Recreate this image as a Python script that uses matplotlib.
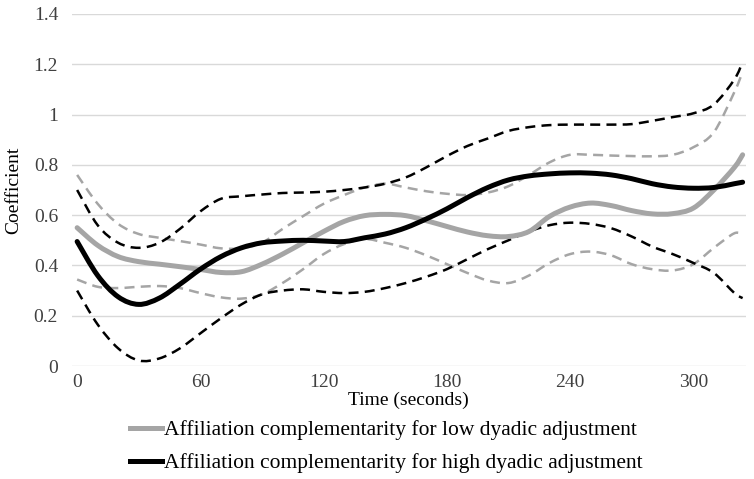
import matplotlib.pyplot as plt
from matplotlib.path import Path
from matplotlib.patches import PathPatch
from matplotlib.lines import Line2D
import numpy as np

# time in seconds
time = [0, 10, 20, 30, 40, 50, 60, 70, 80, 90, 100, 110, 120, 130, 140, 150, 160,
        170, 180, 190, 200, 210, 220, 230, 240, 250, 260, 270, 280, 290, 300, 310, 320, 324]

low_mean = [0.55, 0.48, 0.435, 0.415, 0.405, 0.395, 0.384, 0.372, 0.375, 0.405, 0.445, 0.49,
            0.535, 0.575, 0.598, 0.603, 0.598, 0.578, 0.555, 0.533, 0.518, 0.515, 0.535, 0.595,
            0.632, 0.648, 0.638, 0.618, 0.605, 0.606, 0.628, 0.70, 0.79, 0.84]
low_upper = [0.76, 0.645, 0.565, 0.525, 0.51, 0.497, 0.483, 0.468, 0.468, 0.49, 0.545, 0.596,
             0.645, 0.68, 0.71, 0.725, 0.71, 0.695, 0.685, 0.68, 0.69, 0.715, 0.76, 0.81,
             0.84, 0.84, 0.837, 0.835, 0.834, 0.84, 0.87, 0.93, 1.09, 1.17]
low_lower = [0.344, 0.315, 0.31, 0.315, 0.318, 0.31, 0.29, 0.273, 0.268, 0.285, 0.33, 0.385,
             0.445, 0.485, 0.505, 0.49, 0.47, 0.44, 0.405, 0.37, 0.34, 0.33, 0.36, 0.41,
             0.445, 0.455, 0.44, 0.405, 0.385, 0.38, 0.405, 0.47, 0.528, 0.52]

high_mean = [0.495, 0.36, 0.275, 0.245, 0.27, 0.325, 0.385, 0.435, 0.47, 0.49, 0.497, 0.5,
             0.497, 0.495, 0.51, 0.525, 0.55, 0.585, 0.625, 0.67, 0.71, 0.74, 0.756, 0.764,
             0.768, 0.767, 0.76, 0.745, 0.725, 0.712, 0.707, 0.71, 0.725, 0.731]
high_upper = [0.70, 0.56, 0.49, 0.47, 0.49, 0.545, 0.615, 0.665, 0.675, 0.682, 0.688, 0.69,
              0.693, 0.70, 0.71, 0.725, 0.75, 0.79, 0.835, 0.875, 0.905, 0.935, 0.95, 0.958,
              0.96, 0.96, 0.96, 0.962, 0.975, 0.99, 1.005, 1.04, 1.14, 1.21]
high_lower = [0.30, 0.165, 0.07, 0.022, 0.03, 0.07, 0.13, 0.19, 0.245, 0.285, 0.30, 0.305,
              0.295, 0.29, 0.295, 0.31, 0.33, 0.355, 0.385, 0.425, 0.465, 0.5, 0.535, 0.56,
              0.57, 0.565, 0.548, 0.515, 0.475, 0.445, 0.41, 0.37, 0.29, 0.27]

x_ticks = [0, 60, 120, 180, 240, 300]
y_ticks = [0, 0.2, 0.4, 0.6, 0.8, 1.0, 1.2, 1.4]
y_ticklabels = ["0", "0.2", "0.4", "0.6", "0.8", "1", "1.2", "1.4"]

low_label = "Affiliation complementarity for low dyadic adjustment"
high_label = "Affiliation complementarity for high dyadic adjustment"

GRAY = "#a5a5a5"
BLACK = "#000000"

plt.rcParams['font.family'] = ['Liberation Serif', 'DejaVu Serif']


def smooth_line(ax, xs, ys, **kw):
    """Excel-style smoothed line: Catmull-Rom segments drawn as Bezier curves."""
    pts = np.column_stack([xs, ys]).astype(float)
    n = len(pts)
    verts = [pts[0]]
    codes = [Path.MOVETO]
    for i in range(n - 1):
        p0 = pts[max(i - 1, 0)]
        p1 = pts[i]
        p2 = pts[i + 1]
        p3 = pts[min(i + 2, n - 1)]
        c1 = p1 + (p2 - p0) / 6.0
        c2 = p2 - (p3 - p1) / 6.0
        verts += [c1, c2, p2]
        codes += [Path.CURVE4] * 3
    patch = PathPatch(Path(verts, codes), fill=False, **kw)
    ax.add_patch(patch)
    return patch


fig = plt.figure(figsize=(7.54, 4.79), dpi=100)
ax = fig.add_axes([0.0955, 0.2359, 0.8935, 0.7349])

# confidence bands (dashed)
dash = (0, (4, 2.5))
smooth_line(ax, time, low_upper, edgecolor=GRAY, linewidth=1.8, linestyle=dash)
smooth_line(ax, time, low_lower, edgecolor=GRAY, linewidth=1.8, linestyle=dash)
smooth_line(ax, time, high_upper, edgecolor=BLACK, linewidth=1.8, linestyle=dash)
smooth_line(ax, time, high_lower, edgecolor=BLACK, linewidth=1.8, linestyle=dash)

# mean curves
smooth_line(ax, time, low_mean, edgecolor=GRAY, linewidth=3.6, capstyle='round')
smooth_line(ax, time, high_mean, edgecolor=BLACK, linewidth=3.6, capstyle='round')

ax.set_xlim(-2.5, 325.5)
ax.set_ylim(0, 1.4)
ax.set_xticks(x_ticks)
ax.set_yticks(y_ticks)
ax.set_yticklabels(y_ticklabels)
ax.tick_params(length=0, labelsize=14, colors='#404040')
ax.tick_params(axis='y', pad=10)
ax.tick_params(axis='x', pad=6)
ax.grid(True, axis='y', color='#d9d9d9', linewidth=1)
ax.set_axisbelow(True)
for s in ax.spines.values():
    s.set_visible(False)

ax.set_xlabel("Time (seconds)", fontsize=14, labelpad=0.5)
ax.set_ylabel("Coefficient", fontsize=14, labelpad=8)

handles = [Line2D([], [], color=GRAY, linewidth=3.6),
           Line2D([], [], color=BLACK, linewidth=3.6)]
fig.legend(handles, [low_label, high_label], loc='center left',
           bbox_to_anchor=(0.172, 0.067), frameon=False,
           fontsize=15.5, handlelength=1.5, handletextpad=0.1, labelspacing=0.6,
           borderaxespad=0, borderpad=0)

fig.savefig("out.png", dpi=100)
